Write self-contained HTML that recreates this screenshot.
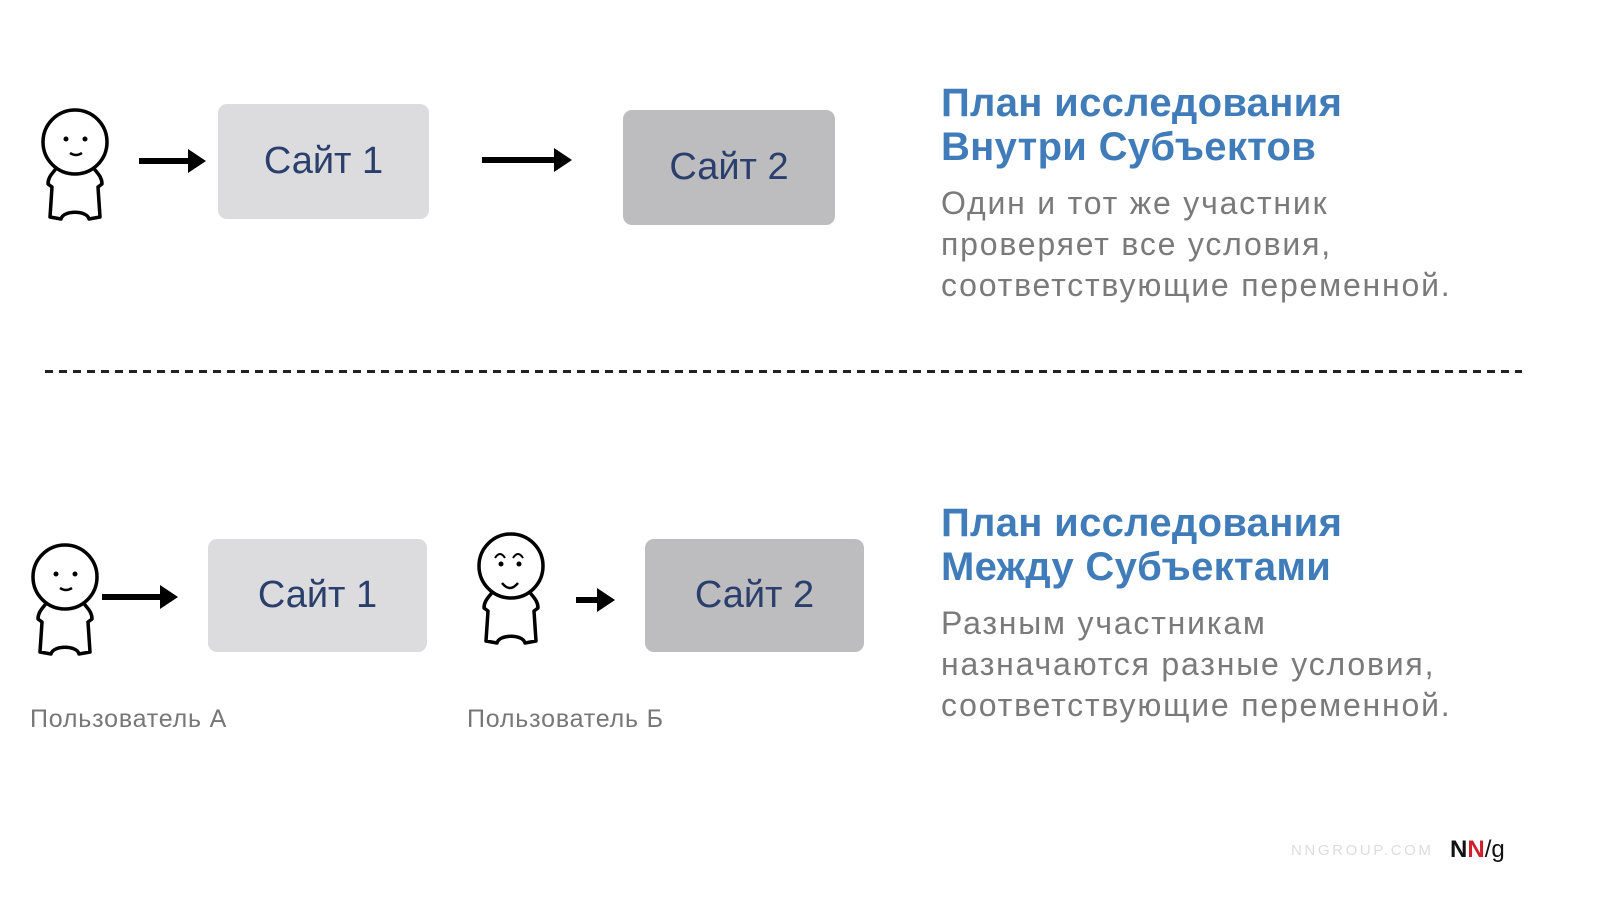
<!DOCTYPE html>
<html><head><meta charset="utf-8"><style>
body{margin:0;width:1600px;height:898px;background:#fff;position:relative;overflow:hidden;font-family:"Liberation Sans",sans-serif}
.box{position:absolute;border-radius:9px;display:flex;align-items:center;justify-content:center;color:#2b3f6c;font-size:38px}
.t{position:absolute;left:941px;color:#3f7cb9;font-weight:bold;font-size:40px;line-height:44px;white-space:nowrap;letter-spacing:0.3px}
.d{position:absolute;left:941px;color:#7a7a7a;font-size:32px;line-height:41px;white-space:nowrap;letter-spacing:1.8px}
.l{position:absolute;color:#777;font-size:25px;letter-spacing:0.8px}
svg{position:absolute;left:0;top:0}
</style></head><body>
<svg width="1600" height="898">
<defs>
<g id="fig" fill="#fff" stroke="#000" stroke-width="3.5" stroke-linejoin="round">
<path d="M18,56 C14,62 8,66 8,74 L12,77 L10,107 L21,109 C23,100 47,100 49,109 L60,107 L58,77 L62,74 C62,66 56,62 52,56"/>
<circle cx="35" cy="32" r="32"/>
</g>
<marker id="ah" markerWidth="4" markerHeight="4" refX="1" refY="2" orient="auto" markerUnits="strokeWidth"><path d="M0,0 L3,2 L0,4Z" fill="#000"/></marker>
</defs>
<use href="#fig" x="40" y="110"/>
<g fill="#000"><circle cx="66" cy="139" r="2.5"/><circle cx="85" cy="139" r="2.5"/></g>
<path d="M70,153 Q76,157 82,153" stroke="#000" stroke-width="2.5" fill="none"/>
<use href="#fig" x="30" y="545"/>
<g fill="#000"><circle cx="56" cy="574" r="2.5"/><circle cx="75" cy="574" r="2.5"/></g>
<path d="M60,588 Q66,592 72,588" stroke="#000" stroke-width="2.5" fill="none"/>
<use href="#fig" x="476" y="534"/>
<g fill="#000"><circle cx="501" cy="564" r="2.5"/><circle cx="519" cy="564" r="2.5"/></g>
<path d="M495,558 Q500,550 505,558 M513,558 Q518,550 523,558" stroke="#000" stroke-width="2" fill="none"/>
<path d="M502,583 Q510,593 518,583" stroke="#000" stroke-width="2.5" fill="none"/>
<g stroke="#000" stroke-width="6" marker-end="url(#ah)">
<line x1="139" y1="161" x2="194" y2="161"/>
<line x1="482" y1="160" x2="560" y2="160"/>
<line x1="102" y1="597" x2="166" y2="597"/>
<line x1="576" y1="600" x2="603" y2="600"/>
</g>
<line x1="45" y1="371.5" x2="1522" y2="371.5" stroke="#222" stroke-width="3" stroke-dasharray="8,6"/>
</svg>
<div class="box" style="left:218px;top:104px;width:211px;height:115px;background:#dcdcdf">Сайт 1</div>
<div class="box" style="left:623px;top:110px;width:212px;height:115px;background:#bdbdc0">Сайт 2</div>
<div class="box" style="left:208px;top:539px;width:219px;height:113px;background:#dcdcdf">Сайт 1</div>
<div class="box" style="left:645px;top:539px;width:219px;height:113px;background:#bdbdc0">Сайт 2</div>
<div class="t" style="top:81px">План исследования<br>Внутри Субъектов</div>
<div class="d" style="top:183px">Один и тот же участник<br>проверяет все условия,<br>соответствующие переменной.</div>
<div class="t" style="top:501px">План исследования<br>Между Субъектами</div>
<div class="d" style="top:603px">Разным участникам<br>назначаются разные условия,<br>соответствующие переменной.</div>
<div class="l" style="left:30px;top:705px">Пользователь А</div>
<div class="l" style="left:467px;top:705px">Пользователь Б</div>
<div style="position:absolute;left:1291px;top:842px;font-size:15px;color:#ddd;letter-spacing:2.6px">NNGROUP.COM</div>
<div style="position:absolute;left:1450px;top:836px;font-size:24px;font-weight:bold;color:#111">N<span style="color:#d0202e">N</span><span style="font-weight:normal">/g</span></div>
</body></html>
